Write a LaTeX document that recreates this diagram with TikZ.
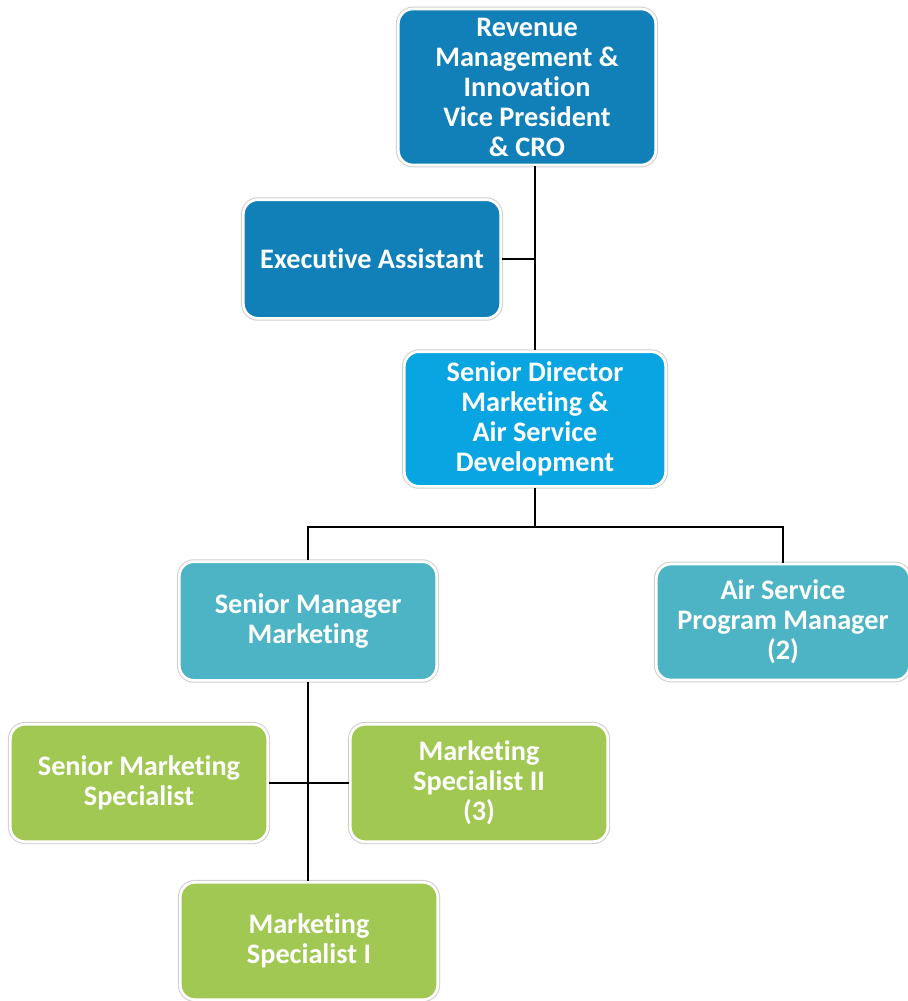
\documentclass[tikz,border=0pt]{standalone}
\usepackage{fontspec}
\setmainfont{Carlito}[Ligatures=NoCommon]
\usetikzlibrary{positioning}

\definecolor{vpblue}{RGB}{17,127,184}
\definecolor{sdblue}{RGB}{8,165,226}
\definecolor{mgrteal}{RGB}{76,180,196}
\definecolor{specgreen}{RGB}{161,200,82}

\begin{document}
\begin{tikzpicture}[
  x=0.75pt, y=-0.75pt,
  font=\bfseries\fontsize{21.2}{22.5}\selectfont,
  role/.style={rounded corners=11pt, align=center, inner sep=0pt,
               minimum width=193pt, minimum height=89pt, text=white,
               draw=white, line width=2pt,
               preaction={draw=black!18, line width=3.6pt}},
  link/.style={line width=1.6pt, black},
]
  \useasboundingbox[fill=white] (0,0) rectangle (908,1001);

  % Top
  \node[role, fill=vpblue, minimum height=117pt] (vp) at (527,87)
    {Revenue\\Management \&\\Innovation\\Vice President\\\& CRO};
  \node[role, fill=vpblue] (ea) at (372,259) {Executive Assistant};
  \node[role, fill=sdblue, minimum height=101pt, minimum width=196pt] (sd) at (535,419)
    {Senior Director\\Marketing \&\\Air Service\\Development};
  % Managers
  \node[role, fill=mgrteal] (smm) at (308,621) {Senior Manager\\Marketing};
  \node[role, fill=mgrteal, minimum width=190pt, minimum height=87pt] (aspm) at (783,622)
    {Air Service\\Program Manager\\(2)};
  % Specialists
  \node[role, fill=specgreen, minimum height=88pt] (sms) at (139,783)
    {Senior Marketing\\Specialist};
  \node[role, fill=specgreen, minimum height=88pt] (msii) at (479,783)
    {Marketing\\Specialist II\\(3)};
  \node[role, fill=specgreen, minimum height=88pt] (msi) at (309,941)
    {Marketing\\Specialist I};

  \coordinate (bus) at (535,527);

  \draw[link] (vp.south -| sd.north) -- (sd.north);
  \draw[link] (ea.east) -- (ea.east -| sd.north);
  \draw[link] (sd.south) -- (bus);
  \draw[link] (bus) -| (smm.north);
  \draw[link] (bus) -| (aspm.north);
  \draw[link] (smm.south) -- (smm.south |- msi.north);
  \draw[link] (sms.east) -- (msii.west);
\end{tikzpicture}
\end{document}
